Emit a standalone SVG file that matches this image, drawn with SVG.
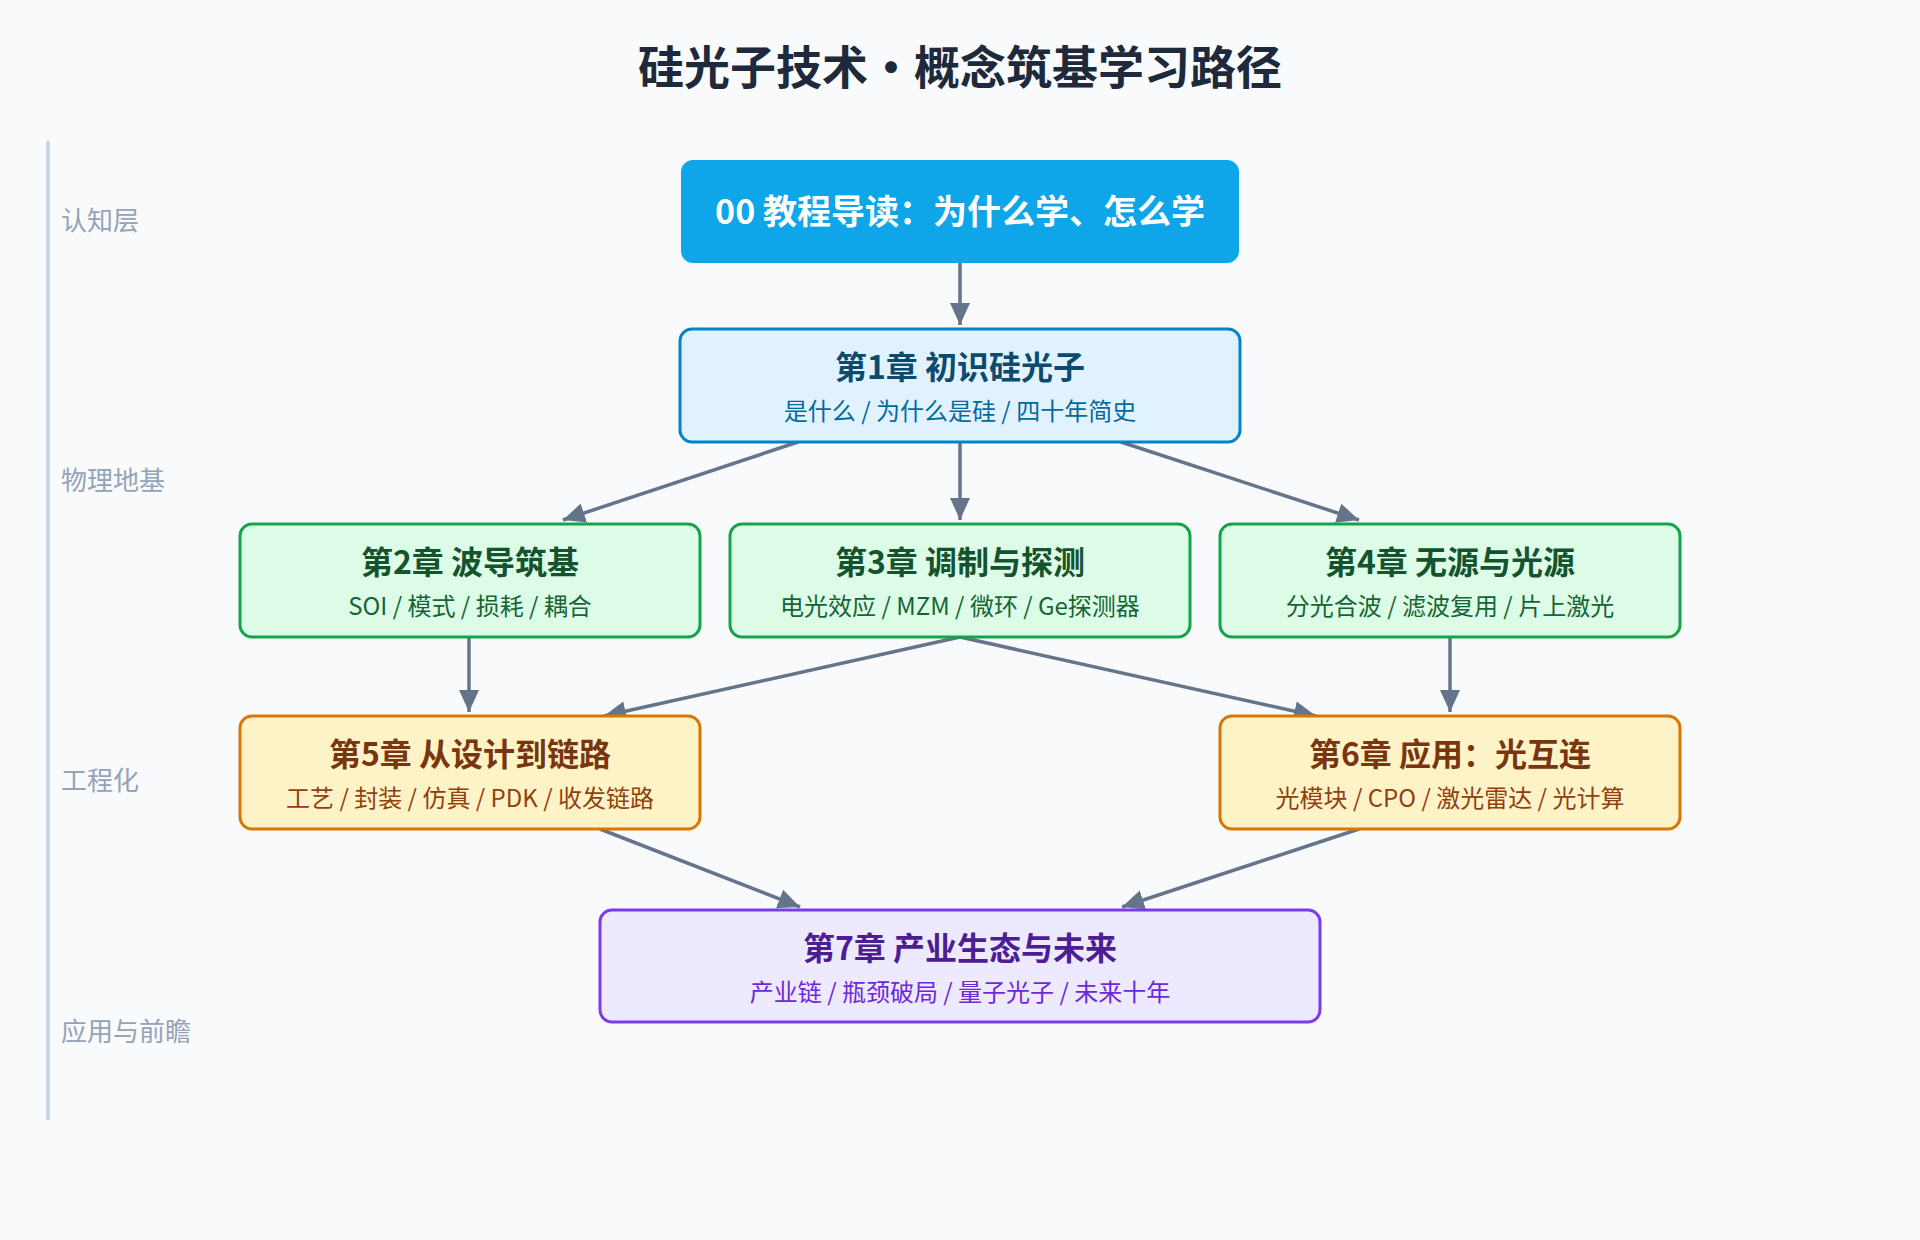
<svg xmlns="http://www.w3.org/2000/svg" width="1920" height="1240" viewBox="0 0 1920 1240">
<style>
text{font-family:"Noto Sans CJK SC","Noto Sans",sans-serif;text-anchor:middle}
.lay{font-size:26px;fill:#94a3b8;text-anchor:start}
.t{font-size:32px;font-weight:bold}
.s{font-size:24px}
.c{stroke:#64748b;stroke-width:3.5;fill:none;marker-end:url(#a)}
</style>
<defs><marker id="a" markerUnits="userSpaceOnUse" markerWidth="24" markerHeight="24" refX="22" refY="12" orient="auto"><path d="M0,2 L22,12 L0,22 Z" fill="#64748b"/></marker></defs>
<rect width="1920" height="1240" fill="#f8fafc"/>
<text x="960" y="84" style="font-size:46px;font-weight:bold;fill:#1e293b">硅光子技术・概念筑基学习路径</text>
<line x1="48" y1="141" x2="48" y2="1120" stroke="#cbd5e1" stroke-width="4"/>
<text class="lay" x="61" y="230">认知层</text>
<text class="lay" x="61" y="490">物理地基</text>
<text class="lay" x="61" y="790">工程化</text>
<text class="lay" x="61" y="1041">应用与前瞻</text>
<g id="connectors">
<path class="c" d="M960,263 L960,325"/>
<path class="c" d="M798,442 L563,520"/>
<path class="c" d="M960,442 L960,520"/>
<path class="c" d="M1121,442 L1359,520"/>
<path class="c" d="M469,637 L469,712"/>
<path class="c" d="M960,637 L604,716"/>
<path class="c" d="M960,637 L1316,716"/>
<path class="c" d="M1450,637 L1450,712"/>
<path class="c" d="M600,829 L800,907"/>
<path class="c" d="M1359,829 L1122,907"/>
</g>
<g id="n0"><rect x="681" y="160" width="558" height="103" rx="12" fill="#0ea5e9"/><text x="960" y="224" class="t" fill="#fff" style="font-size:34px">00 教程导读：为什么学、怎么学</text></g>
<g id="n1"><rect x="680" y="329" width="560" height="113" rx="12" fill="#e0f2fe" stroke="#0284c7" stroke-width="3"/><text x="960" y="379" class="t" fill="#0c4a6e">第1章 初识硅光子</text><text x="960" y="420" class="s" fill="#0369a1">是什么 / 为什么是硅 / 四十年简史</text></g>
<g id="n2"><rect x="240" y="524" width="460" height="113" rx="12" fill="#dcfce7" stroke="#16a34a" stroke-width="3"/><text x="470" y="574" class="t" fill="#14532d">第2章 波导筑基</text><text x="470" y="615" class="s" fill="#166534">SOI / 模式 / 损耗 / 耦合</text></g>
<g id="n3"><rect x="730" y="524" width="460" height="113" rx="12" fill="#dcfce7" stroke="#16a34a" stroke-width="3"/><text x="960" y="574" class="t" fill="#14532d">第3章 调制与探测</text><text x="960" y="615" class="s" fill="#166534">电光效应 / MZM / 微环 / Ge探测器</text></g>
<g id="n4"><rect x="1220" y="524" width="460" height="113" rx="12" fill="#dcfce7" stroke="#16a34a" stroke-width="3"/><text x="1450" y="574" class="t" fill="#14532d">第4章 无源与光源</text><text x="1450" y="615" class="s" fill="#166534">分光合波 / 滤波复用 / 片上激光</text></g>
<g id="n5"><rect x="240" y="716" width="460" height="113" rx="12" fill="#fef3c7" stroke="#d97706" stroke-width="3"/><text x="470" y="766" class="t" fill="#78350f">第5章 从设计到链路</text><text x="470" y="807" class="s" fill="#92400e">工艺 / 封装 / 仿真 / PDK / 收发链路</text></g>
<g id="n6"><rect x="1220" y="716" width="460" height="113" rx="12" fill="#fef3c7" stroke="#d97706" stroke-width="3"/><text x="1450" y="766" class="t" fill="#78350f">第6章 应用：光互连</text><text x="1450" y="807" class="s" fill="#92400e">光模块 / CPO / 激光雷达 / 光计算</text></g>
<g id="n7"><rect x="600" y="910" width="720" height="112" rx="12" fill="#ede9fe" stroke="#7c3aed" stroke-width="3"/><text x="960" y="960" class="t" fill="#4c1d95">第7章 产业生态与未来</text><text x="960" y="1001" class="s" fill="#6d28d9">产业链 / 瓶颈破局 / 量子光子 / 未来十年</text></g>
</svg>
